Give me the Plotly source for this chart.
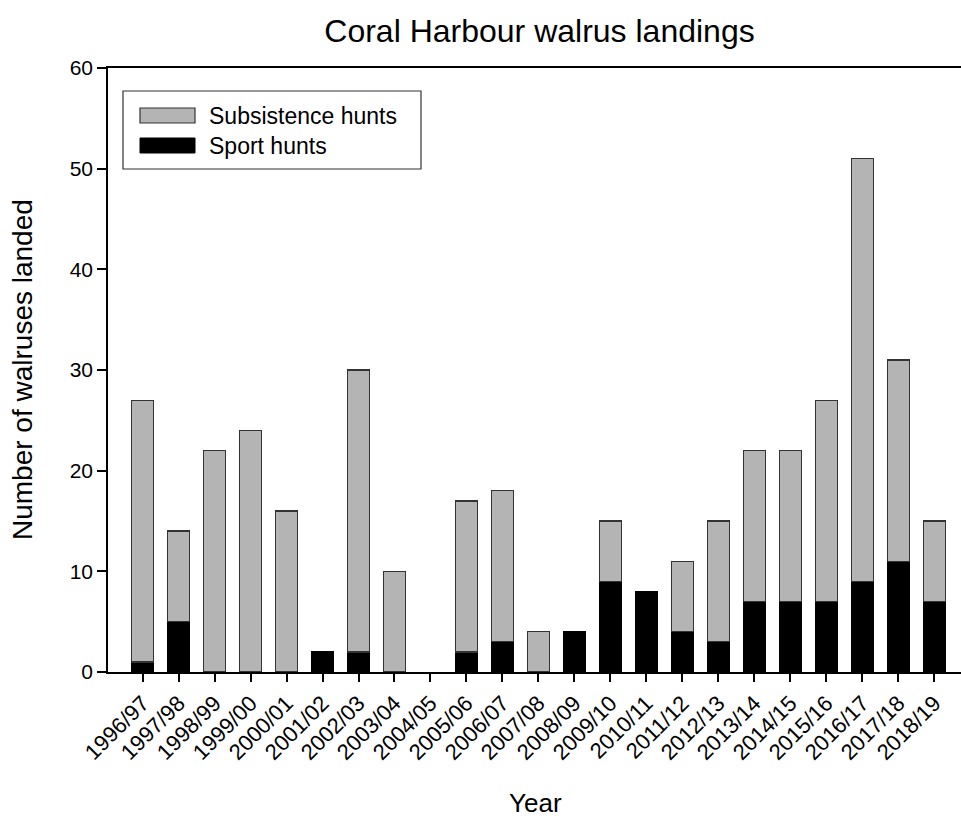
import plotly.graph_objects as go

years = ["1996/97", "1997/98", "1998/99", "1999/00", "2000/01", "2001/02", "2002/03",
         "2003/04", "2004/05", "2005/06", "2006/07", "2007/08", "2008/09", "2009/10",
         "2010/11", "2011/12", "2012/13", "2013/14", "2014/15", "2015/16", "2016/17",
         "2017/18", "2018/19"]
sport = [1, 5, 0, 0, 0, 2, 2, 0, 0, 2, 3, 0, 4, 9, 8, 4, 3, 7, 7, 7, 9, 11, 7]
subsistence = [26, 9, 22, 24, 16, 0, 28, 10, 0, 15, 15, 4, 0, 6, 0, 7, 12, 15, 15, 20, 42, 20, 8]

FONT = "Liberation Sans, Arial, sans-serif"
GRAY = "#b4b4b4"
EDGE = "#333333"

def nz(vals):
    # zero-height segments are not drawn (avoids stray outline slivers)
    return [v if v else None for v in vals]

fig = go.Figure()
fig.add_trace(go.Bar(x=years, y=nz(sport), name="Sport hunts", showlegend=False,
                     marker=dict(color="#000000", line=dict(color="#000000", width=1))))
fig.add_trace(go.Bar(x=years, y=nz(subsistence), name="Subsistence hunts", showlegend=False,
                     marker=dict(color=GRAY, line=dict(color=EDGE, width=1.3))))

W, H = 961, 820
L, R, T, B = 108, 0, 68, 148
pw = W - L - R
ph = H - T - B

def px(x):
    return (x - L) / pw

def py(y):
    return (H - B - y) / ph

shapes = [
    # legend frame
    dict(type="rect", xref="paper", yref="paper", x0=px(123), x1=px(421), y0=py(169), y1=py(91),
         line=dict(color=EDGE, width=1.2), fillcolor="white", layer="above"),
    # legend swatches
    dict(type="rect", xref="paper", yref="paper", x0=px(140), x1=px(195), y0=py(123), y1=py(108),
         line=dict(color=EDGE, width=1.2), fillcolor=GRAY, layer="above"),
    dict(type="rect", xref="paper", yref="paper", x0=px(140), x1=px(195), y0=py(153), y1=py(138),
         line=dict(color="black", width=1), fillcolor="black", layer="above"),
]

fig.update_layout(
    width=W, height=H,
    margin=dict(l=L, r=R, t=T, b=B),
    barmode="stack",
    bargap=0.4,
    paper_bgcolor="white",
    plot_bgcolor="white",
    font=dict(family=FONT, color="black"),
    title=dict(text="Coral Harbour walrus landings", font=dict(size=32, family=FONT, color="black"),
               x=539.5 / W, xref="container", xanchor="center",
               y=1 - 31 / H, yref="container", yanchor="middle"),
    showlegend=False,
    shapes=shapes,
    xaxis=dict(type="category", range=[-0.96, 22.74],
               showline=True, linecolor="black", linewidth=1.5, mirror=True,
               ticks="outside", ticklen=8, tickcolor="black", tickwidth=1.5,
               tickangle=-45, tickfont=dict(size=22, family=FONT, color="black"),
               showgrid=False, zeroline=False),
    yaxis=dict(range=[0, 60], dtick=10, tick0=0,
               showline=True, linecolor="black", linewidth=1.5,
               ticks="outside", ticklen=9, tickcolor="black", tickwidth=1.5,
               tickfont=dict(size=21, family=FONT, color="black"),
               showgrid=False, zeroline=False),
    annotations=[
        dict(text="Subsistence hunts", xref="paper", yref="paper", x=px(207), y=py(116),
             xanchor="left", yanchor="middle", showarrow=False,
             font=dict(size=23, family=FONT, color="black")),
        dict(text="Sport hunts", xref="paper", yref="paper", x=px(207), y=py(146),
             xanchor="left", yanchor="middle", showarrow=False,
             font=dict(size=23, family=FONT, color="black")),
        dict(text="Number of walruses landed", textangle=-90, xref="paper", yref="paper",
             x=px(22), y=py(370), xanchor="center", yanchor="middle",
             showarrow=False, font=dict(size=28, family=FONT, color="black")),
        dict(text="Year", xref="paper", yref="paper",
             x=px(535), y=py(803), xanchor="center", yanchor="middle",
             showarrow=False, font=dict(size=26, family=FONT, color="black")),
    ],
)

fig.write_html("out.html", config={"displayModeBar": False},
               post_script="document.body.style.margin='0';document.body.style.padding='0';")
